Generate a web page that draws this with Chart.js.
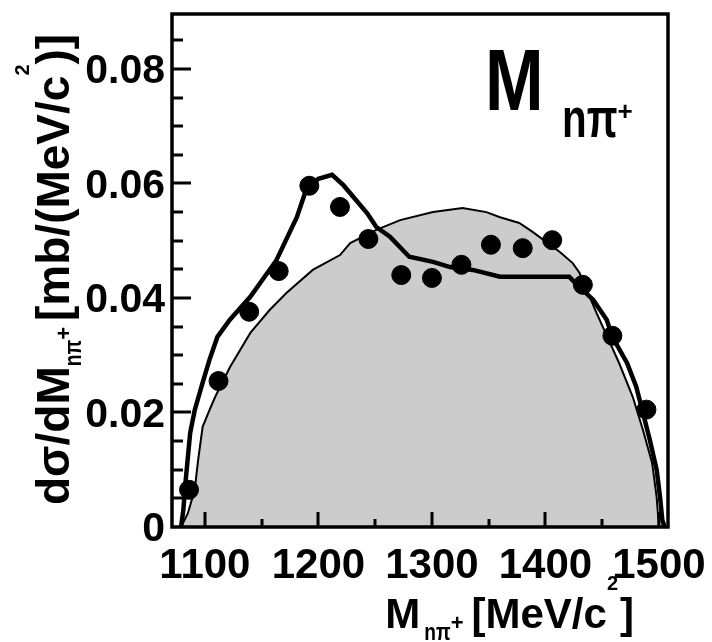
<!DOCTYPE html>
<html>
<head>
<meta charset="utf-8">
<script src="https://cdn.jsdelivr.net/npm/chart.js@4.4.0/dist/chart.umd.min.js"></script>
<style>
  html, body { margin: 0; padding: 0; background: #fff; }
  #wrap { width: 712px; height: 642px; }
</style>
</head>
<body>
<div id="wrap"><canvas id="chart" width="712" height="642"></canvas></div>
<script>
// measured points (n pi+ invariant mass)
const massPoints = [1086, 1112, 1139, 1165, 1192, 1219, 1244, 1273, 1300, 1326, 1352, 1380, 1406, 1433, 1459, 1489];
const xsecPoints = [0.0065, 0.0255, 0.0376, 0.0447, 0.0596, 0.0559, 0.0503, 0.0440, 0.0435, 0.0458, 0.0493, 0.0487, 0.0501, 0.0423, 0.0334, 0.0205];

// model curve
const modelMass = [1079, 1081, 1083, 1085, 1087, 1091, 1098, 1104, 1111, 1122, 1140, 1163, 1181, 1190, 1200, 1212, 1222,
  1243, 1251, 1263, 1280, 1301, 1316, 1336, 1360, 1395, 1421, 1430, 1442, 1454, 1459, 1472, 1480, 1486, 1492, 1498, 1501, 1503, 1505];
const modelXsec = [0, 0.003, 0.008, 0.0122, 0.0164, 0.0204, 0.0252, 0.0292, 0.0332, 0.0362, 0.0402, 0.0466, 0.0541, 0.0594, 0.0608, 0.0615, 0.0597,
  0.0548, 0.0524, 0.0507, 0.0472, 0.0463, 0.0454, 0.0449, 0.0437, 0.0437, 0.0437, 0.0419, 0.0397, 0.0362, 0.0332, 0.0286, 0.0245, 0.0199, 0.0152, 0.0100, 0.0052, 0.0012, 0];

// phase space (grey area)
const phaseMass = [1079, 1085, 1091, 1094, 1098, 1104, 1109, 1122, 1140, 1157, 1172, 1195, 1219, 1228, 1251, 1272, 1301, 1327,
  1348, 1360, 1377, 1389, 1413, 1424, 1430, 1445, 1465, 1477, 1486, 1494, 1498, 1500];
const phaseXsec = [0, 0.0024, 0.0065, 0.0117, 0.0175, 0.0204, 0.0227, 0.0279, 0.0339, 0.0379, 0.0409, 0.0449, 0.0475, 0.0496, 0.0519, 0.0536, 0.0550, 0.0557,
  0.0550, 0.0541, 0.0531, 0.0515, 0.0480, 0.0461, 0.0444, 0.0374, 0.0286, 0.0227, 0.0169, 0.0112, 0.0052, 0];

const xTicks = [1100, 1200, 1300, 1400, 1500];
const xMinorTicks = [1150, 1250, 1350, 1450];
const yTicks = [0, 0.02, 0.04, 0.06, 0.08];
const yMinorTicks = [0.005, 0.01, 0.015, 0.025, 0.03, 0.035, 0.045, 0.05, 0.055, 0.065, 0.07, 0.075, 0.085];

const FONT = '"Liberation Sans", Arial, sans-serif';

function toXY(xs, ys) {
  return xs.map((x, i) => ({ x: x, y: ys[i] }));
}

// draw a run of text pieces (for sub/superscripts)
function drawRun(ctx, parts, x, y, align) {
  let total = 0;
  parts.forEach(p => {
    ctx.font = p.font;
    p.w = ctx.measureText(p.t).width * (p.sx || 1) + (p.gap || 0);
    total += p.w;
  });
  let cx = align === 'right' ? x - total : x;
  parts.forEach(p => {
    ctx.font = p.font;
    ctx.save();
    ctx.translate(cx, y + (p.dy || 0));
    ctx.scale(p.sx || 1, 1);
    ctx.fillText(p.t, 0, 0);
    ctx.restore();
    cx += p.w;
  });
}

const framePlugin = {
  id: 'frame',
  afterDatasetsDraw(chart) {
    const ctx = chart.ctx;
    const a = chart.chartArea;
    const xs = chart.scales.x, ys = chart.scales.y;
    ctx.save();
    ctx.strokeStyle = '#000';
    ctx.lineWidth = 3;
    ctx.lineCap = 'butt';
    // ticks on the y axis, pointing inwards
    yTicks.forEach(v => {
      const p = Math.round(ys.getPixelForValue(v));
      if (v === 0) return;
      ctx.beginPath(); ctx.moveTo(a.left, p); ctx.lineTo(a.left + 19, p); ctx.stroke();
    });
    yMinorTicks.forEach(v => {
      const p = Math.round(ys.getPixelForValue(v));
      ctx.beginPath(); ctx.moveTo(a.left, p); ctx.lineTo(a.left + 11, p); ctx.stroke();
    });
    xTicks.forEach(v => {
      const p = Math.round(xs.getPixelForValue(v));
      ctx.beginPath(); ctx.moveTo(p, a.bottom); ctx.lineTo(p, a.bottom - 15); ctx.stroke();
    });
    xMinorTicks.forEach(v => {
      const p = Math.round(xs.getPixelForValue(v));
      ctx.beginPath(); ctx.moveTo(p, a.bottom); ctx.lineTo(p, a.bottom - 8); ctx.stroke();
    });
    ctx.lineWidth = 3.5;
    ctx.strokeRect(a.left, a.top, a.right - a.left, a.bottom - a.top);
    ctx.restore();
  },
  afterDraw(chart) {
    const ctx = chart.ctx;
    const a = chart.chartArea;
    ctx.save();
    ctx.fillStyle = '#000';
    ctx.textBaseline = 'alphabetic';

    // x axis title
    drawRun(ctx, [
      { t: 'M', font: 'bold 42px ' + FONT, gap: 4 },
      { t: 'nπ', font: 'bold 24px ' + FONT, dy: 12, sx: 0.8 },
      { t: '+', font: 'bold 22px ' + FONT, dy: 2, gap: 8 },
      { t: '[MeV/c', font: 'bold 42px ' + FONT },
      { t: '2', font: 'bold 20px ' + FONT, dy: -38, gap: 2 },
      { t: ']', font: 'bold 42px ' + FONT }
    ], a.right - 34, a.bottom + 101, 'right');

    // y axis title, rotated
    ctx.save();
    ctx.translate(69, a.bottom - 22);
    ctx.rotate(-Math.PI / 2);
    drawRun(ctx, [
      { t: 'dσ/dM', font: 'bold 46px ' + FONT },
      { t: 'nπ', font: 'bold 24px ' + FONT, dy: 12, sx: 0.8 },
      { t: '+', font: 'bold 22px ' + FONT, dy: 2, gap: 6 },
      { t: '[mb/(MeV/c', font: 'bold 46px ' + FONT },
      { t: '2', font: 'bold 20px ' + FONT, dy: -40 },
      { t: ')]', font: 'bold 46px ' + FONT }
    ], 0, 0, 'left');
    ctx.restore();

    // panel label
    drawRun(ctx, [{ t: 'M', font: 'bold 88px ' + FONT, sx: 0.8 }], a.left + 313, 110, 'left');
    drawRun(ctx, [
      { t: 'nπ', font: 'bold 56px ' + FONT, sx: 0.72 },
      { t: '+', font: 'bold 26px ' + FONT, dy: -17 }
    ], a.left + 390, 137, 'left');
    ctx.restore();
  }
};

new Chart(document.getElementById('chart'), {
  type: 'scatter',
  data: {
    datasets: [
      {
        data: toXY(massPoints, xsecPoints),
        backgroundColor: '#000',
        borderColor: '#000',
        pointRadius: 9.5,
        pointHoverRadius: 9.5,
        showLine: false,
        order: 0
      },
      {
        data: toXY(modelMass, modelXsec),
        type: 'line',
        borderColor: '#000',
        borderWidth: 4.5,
        pointRadius: 0,
        fill: false,
        tension: 0,
        order: 1
      },
      {
        data: toXY(phaseMass, phaseXsec),
        type: 'line',
        borderColor: '#000',
        borderWidth: 2,
        backgroundColor: '#cccccc',
        pointRadius: 0,
        fill: 'origin',
        tension: 0,
        order: 2
      }
    ]
  },
  options: {
    responsive: false,
    devicePixelRatio: 1,
    animation: false,
    events: [],
    layout: { padding: { top: 14, right: 44, left: 0, bottom: 0 } },
    plugins: {
      legend: { display: false },
      tooltip: { enabled: false }
    },
    scales: {
      x: {
        type: 'linear',
        min: 1071,
        max: 1508,
        grid: { display: false, drawTicks: false },
        border: { display: false },
        afterBuildTicks: scale => { scale.ticks = xTicks.map(v => ({ value: v })); },
        afterFit: scale => {
          scale.height = 115;
          scale.paddingLeft = 0;
          scale.paddingRight = 0;
        },
        ticks: {
          color: '#000',
          padding: 14,
          font: { family: FONT, size: 42, weight: 'bold' },
          callback: v => String(v)
        }
      },
      y: {
        type: 'linear',
        min: 0,
        max: 0.0896,
        grid: { display: false, drawTicks: false },
        border: { display: false },
        afterBuildTicks: scale => { scale.ticks = yTicks.map(v => ({ value: v })); },
        afterFit: scale => {
          scale.width = 172;
          scale.paddingTop = 0;
          scale.paddingBottom = 0;
        },
        ticks: {
          color: '#000',
          padding: 7,
          labelOffset: 3,
          font: { family: FONT, size: 41, weight: 'bold' },
          callback: v => (v === 0 ? '0' : v.toFixed(2))
        }
      }
    }
  },
  plugins: [framePlugin]
});
</script>
</body>
</html>
